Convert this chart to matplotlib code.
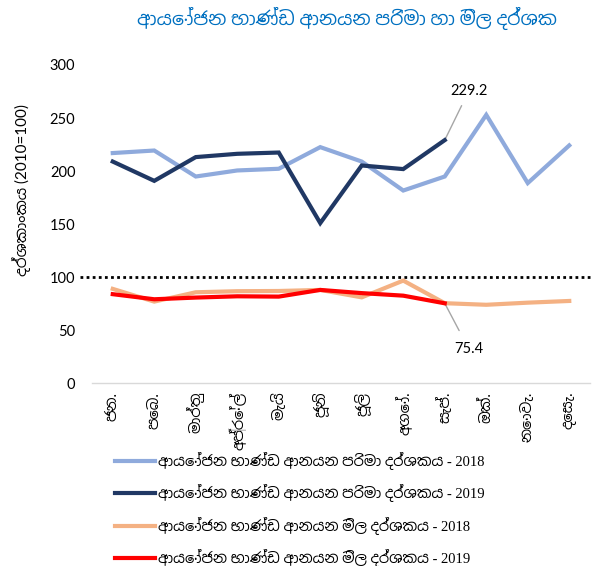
import matplotlib
matplotlib.use("Agg")
import matplotlib.pyplot as plt
from matplotlib import font_manager
from matplotlib.lines import Line2D

# --- find fonts with Sinhala glyphs, prefer proportional ones
cands = []
try:
    from fontTools.ttLib import TTFont
    for fe in font_manager.fontManager.ttflist:
        try:
            tt = TTFont(fe.fname, fontNumber=0, lazy=True)
            cmap = tt.getBestCmap()
            if cmap and 0x0D85 in cmap:
                score = 0
                n = fe.name.lower()
                if 'sinhala' in n:
                    score -= 2
                if 'mono' in n:
                    score += 5
                if 'sans' in n:
                    score -= 1
                cands.append((score, fe.name))
        except Exception:
            pass
except Exception:
    pass
cands.sort()
sinhala_font = cands[0][1] if cands else None
extra = [sinhala_font] if sinhala_font else []

sans = ['Lato'] + extra + ['DejaVu Sans']
serif = ['Liberation Serif'] + extra + ['DejaVu Serif']

# --- data
months = ['ජන.', 'පෙබ.', 'මාර්තු', 'අප්‍රේල්', 'මැයි', 'ජූනි', 'ජූලි', 'අගෝ.', 'සැප්.', 'ඔක්.', 'නොවැ.', 'දෙසැ.']
volume_2018 = [217, 219.4, 194.9, 200.6, 202.2, 222.6, 209, 181.7, 194.9, 253, 188.7, 224.2]
volume_2019 = [209, 190.8, 213.2, 216.3, 217.5, 151, 205.3, 201.9, 229.2]
price_2018 = [89, 77, 85.8, 86.8, 87, 88, 81, 96.8, 75.5, 74, 76, 77.6]
price_2019 = [84, 79.2, 80.8, 82, 81.7, 88, 85, 82.6, 75.4]
labels = ['ආයෝජන භාණ්ඩ ආනයන පරිමා දර්ශකය - 2018',
          'ආයෝජන භාණ්ඩ ආනයන පරිමා දර්ශකය - 2019',
          'ආයෝජන භාණ්ඩ ආනයන මිල දර්ශකය - 2018',
          'ආයෝජන භාණ්ඩ ආනයන මිල දර්ශකය - 2019']
title = 'ආයෝජන භාණ්ඩ ආනයන පරිමා හා මිල දර්ශක'
ylabel = 'දර්ශකාංකය (2010=100)'
yticks = [0, 50, 100, 150, 200, 250, 300]
base_level = 100

colors = ['#8FAADC', '#203864', '#F4B183', '#FF0000']

fig = plt.figure(figsize=(5.95, 5.66), dpi=100)
ax = fig.add_axes([92/595, 1-383.3/566, 498/595, (383.3-65)/566])

x18 = list(range(len(months)))
x19 = list(range(len(volume_2019)))
lw = 3.0
ax.plot(x18, volume_2018, color=colors[0], lw=lw, solid_joinstyle='miter', zorder=3)
ax.plot(x19, volume_2019, color=colors[1], lw=lw, solid_joinstyle='miter', zorder=4)
ax.plot(x18, price_2018, color=colors[2], lw=lw, solid_joinstyle='miter', zorder=3)
ax.plot(x19, price_2019, color=colors[3], lw=lw, solid_joinstyle='miter', zorder=4)

ax.plot([-0.8, 11.55], [base_level, base_level], color='black', lw=2.0,
        linestyle=(0, (1, 1.2)), clip_on=False, zorder=2)

ax.set_xlim(-0.5, len(months) - 0.5)
ax.set_ylim(0, 300)
ax.set_yticks(yticks)
ax.set_yticklabels([str(v) for v in yticks], fontsize=10.5, family=sans)
ax.set_xticks(x18)
ax.set_xticklabels(months, rotation=90, fontsize=10.5, family=sans, va='top', ha='center')
ax.tick_params(axis='both', length=0, pad=6)
ax.tick_params(axis='y', pad=12)
for s in ['top', 'right', 'left']:
    ax.spines[s].set_visible(False)
ax.spines['bottom'].set_color('#D9D9D9')
ax.spines['bottom'].set_linewidth(1.0)

# annotations
ax.annotate(f'{volume_2019[-1]:.1f}', xy=(len(volume_2019) - 1, volume_2019[-1]),
            xytext=(x19[-1] + 0.58, 269), textcoords='data', fontsize=10.5,
            family=sans, ha='center', va='bottom',
            arrowprops=dict(arrowstyle='-', color='#A6A6A6', lw=1.0, shrinkA=4, shrinkB=0))
ax.annotate(f'{price_2019[-1]:.1f}', xy=(len(price_2019) - 1, price_2019[-1]),
            xytext=(x19[-1] + 0.58, 39), textcoords='data', fontsize=10.5,
            family=sans, ha='center', va='top',
            arrowprops=dict(arrowstyle='-', color='#A6A6A6', lw=1.0, shrinkA=7, shrinkB=0))

fig.text(347/595, 1-18/566, title, ha='center', va='center', fontsize=13.6,
         fontweight='bold', color='#0070C0', family=sans)
fig.text(22/595, 1-190/566, ylabel, rotation=90, ha='center', va='center',
         fontsize=11, family=sans)

handles = [Line2D([0], [0], color=c, lw=3) for c in colors]
leg = fig.legend(handles, labels, loc='center left', bbox_to_anchor=(102/595, 1-509.5/566),
                 frameon=False, ncol=1, handlelength=2.75, handletextpad=0.2,
                 labelspacing=1.0, prop=font_manager.FontProperties(family=serif, size=10.5))

fig.savefig('out.png', dpi=100)
